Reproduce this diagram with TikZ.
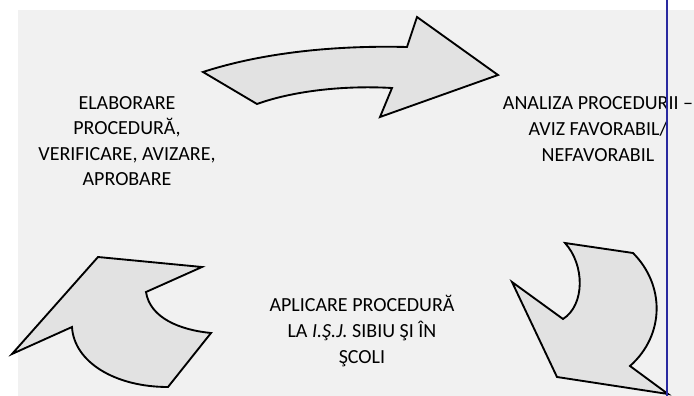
\documentclass[tikz,border=0pt]{standalone}
\usepackage{fontspec}
\setmainfont{Carlito}
\definecolor{bgpaper}{HTML}{F1F1F1}
\definecolor{arrowfill}{HTML}{E2E2E2}
\definecolor{edgeblue}{HTML}{2A2AA0}
\tikzset{
  bigarrow/.style={draw=black, fill=arrowfill, line width=1.4pt, line join=miter},
  label/.style={align=center, font=\fontsize{15}{19.2}\selectfont, inner sep=0pt},
}
\begin{document}
\begin{tikzpicture}[x=0.75pt, y=-0.75pt]
\useasboundingbox (0,0) rectangle (694,396);
\fill[white] (0,0) rectangle (694,396);
\fill[bgpaper] (18,10) rectangle (694,396);
% top arrow
\draw[bigarrow] (203,72) .. controls (255,55) and (325,45) .. (407,47) -- (417,17) -- (498,75) -- (380,117) -- (392,88) .. controls (340,85) and (290,92) .. (257,104) -- cycle;
% bottom-right arrow
\draw[bigarrow] (565,243) -- (633,253) .. controls (665,285) and (665,335) .. (630,366) -- (668,394) -- (557,377) -- (512,282) -- (563,319) .. controls (585,305) and (585,265) .. (565,243) -- cycle;
% bottom-left arrow
\draw[bigarrow] (12,354) -- (72,327) .. controls (74,362) and (115,387) .. (168,387) -- (211,333) .. controls (180,330) and (150,318) .. (146,292) -- (202,267) -- (98,257) -- cycle;
% texts
\node[label] (elab) at (127,141) {ELABORARE\\PROCEDURĂ,\\VERIFICARE, AVIZARE,\\APROBARE};
\node[label] (anal) at (598,129) {ANALIZA PROCEDURII –\\AVIZ FAVORABIL/\\NEFAVORABIL};
\node[label] (apli) at (362,331) {APLICARE PROCEDURĂ\\LA \textit{I.Ş.J.} SIBIU ŞI ÎN\\ŞCOLI};
% blue margin line
\draw[edgeblue, line width=1.2pt] (667,0) -- (667,396);
\end{tikzpicture}
\end{document}
